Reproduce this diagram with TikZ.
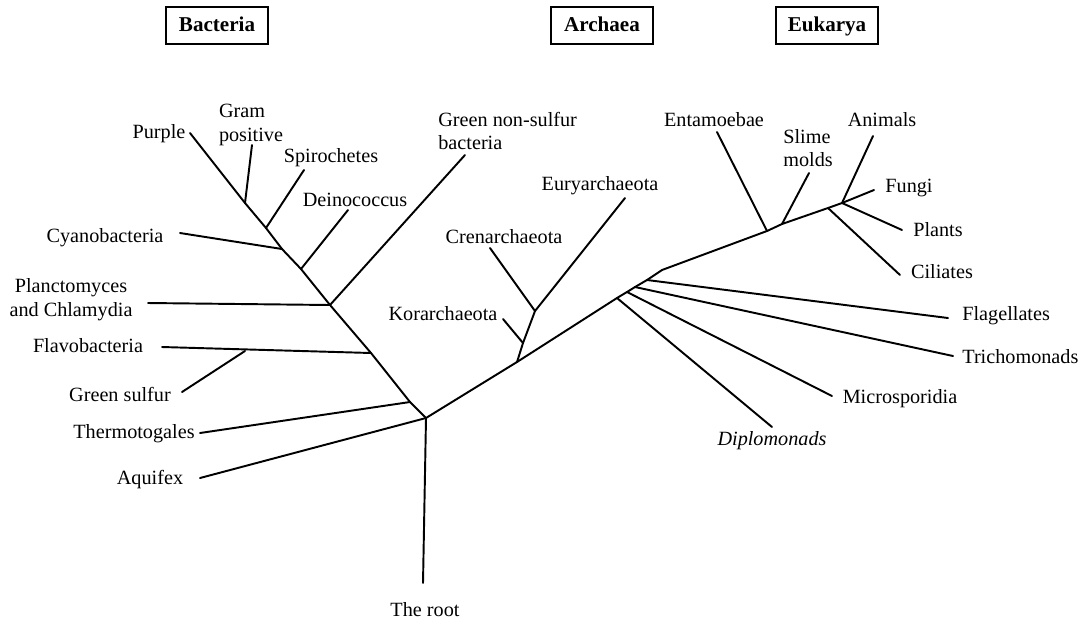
\documentclass[tikz,border=0pt]{standalone}
\usepackage{fontspec}
\setmainfont{Liberation Serif}
\tikzset{
  domainbox/.style={draw, line width=0.9pt, font=\fontsize{12}{14}\selectfont\bfseries, minimum width=20.4mm, minimum height=7.4mm, inner sep=1mm, text height=0.66em, text depth=0pt},
  taxon/.style={align=center, font=\fontsize{11.5}{13.5}\selectfont, inner sep=0pt},
  branch/.style={line width=1.1pt, line cap=round, line join=round}
}

\begin{document}
\begin{tikzpicture}[x=0.2mm, y=-0.2mm]
\useasboundingbox (0,0) rectangle (1083,621);

% the three domains
\node[domainbox] (bac) at (217,25.5) {Bacteria};
\node[domainbox] (arc) at (602,25.5) {Archaea};
\node[domainbox] (euk) at (827,25.5) {Eukarya};

% bacterial trunk
\coordinate (root) at (426,418);
\coordinate (bthermo) at (410,402);
\coordinate (bflavo) at (371,353);
\coordinate (bplancto) at (330,305);
\coordinate (bdeino) at (301,269);
\coordinate (bcyano) at (282,249);
\coordinate (bspiro) at (266,228);
\coordinate (bgram) at (245,203);
\coordinate (tpurple) at (190,133);
\coordinate (tgram) at (252,145);
\coordinate (tspiro) at (304,170);
\coordinate (tcyano) at (180,233);
\coordinate (tdeino) at (348,210);
\coordinate (tplancto) at (148,303);
\coordinate (tgreenns) at (465,155);
\coordinate (tflavo) at (162,347);
\coordinate (bgreens) at (245,351);
\coordinate (tgreens) at (182,392);
\coordinate (tthermo) at (200,433);
\coordinate (taquifex) at (200,478);
\coordinate (troot) at (423,583);

% archaea
\coordinate (arch) at (517,362);
\coordinate (akor) at (523,343);
\coordinate (asplit) at (535,311);
\coordinate (tkor) at (503,319);
\coordinate (tcren) at (490,248);
\coordinate (teury) at (625,198);

% eukarya
\coordinate (ediplo) at (617,298);
\coordinate (emicro) at (627,292);
\coordinate (etricho) at (635,287);
\coordinate (eflag) at (647,280);
\coordinate (ebend) at (662,270);
\coordinate (eentam) at (767,231);
\coordinate (eslime) at (782,224);
\coordinate (ecil) at (828,208);
\coordinate (ecrown) at (842,203);
\coordinate (tdiplo) at (772,427);
\coordinate (tmicro) at (832,396);
\coordinate (ttricho) at (953,356);
\coordinate (tflag) at (948,318);
\coordinate (tentam) at (717,132);
\coordinate (tslime) at (809,173);
\coordinate (tcil) at (900,275);
\coordinate (tanimal) at (873,136);
\coordinate (tfungi) at (874,190);
\coordinate (tplant) at (902,230);

% labels
\node[taxon] (purple) at (159,134) {Purple};
\node[taxon, align=left] (gram) at (251,125) {Gram\\positive};
\node[taxon] (spiro) at (331,158) {Spirochetes};
\node[taxon] (deino) at (355,200) {Deinococcus};
\node[taxon] (cyano) at (105,238) {Cyanobacteria};
\node[taxon] (plancto) at (71,300) {Planctomyces\\and Chlamydia};
\node[taxon, align=left, anchor=west] (greenns) at (438,131) {Green non-sulfur\\bacteria};
\node[taxon] (flavo) at (88,346) {Flavobacteria};
\node[taxon] (greens) at (120,394) {Green sulfur};
\node[taxon] (thermo) at (134,434) {Thermotogales};
\node[taxon] (aquifex) at (150,480) {Aquifex};
\node[taxon] (rootlab) at (425,610) {The root};
\node[taxon] (kor) at (443,314) {Korarchaeota};
\node[taxon] (cren) at (504,237) {Crenarchaeota};
\node[taxon] (eury) at (600,186) {Euryarchaeota};
\node[taxon, font=\fontsize{11.5}{13.5}\selectfont\itshape] (diplo) at (772,441) {Diplomonads};
\node[taxon] (micro) at (900,399) {Microsporidia};
\node[taxon, anchor=west] (tricho) at (962,357) {Trichomonads};
\node[taxon, anchor=west] (flag) at (962,316) {Flagellates};
\node[taxon] (entam) at (714,120) {Entamoebae};
\node[taxon, align=left] (slime) at (808,148) {Slime\\molds};
\node[taxon] (cil) at (942,272) {Ciliates};
\node[taxon] (animal) at (882,120) {Animals};
\node[taxon] (fungi) at (909,188) {Fungi};
\node[taxon] (plant) at (938,230) {Plants};

% tree
\draw[branch] (tpurple) -- (bgram) -- (bspiro) -- (bcyano) -- (bdeino) -- (bplancto)
  -- (bflavo) -- (bthermo) -- (root) -- (arch) -- (ediplo) -- (emicro) -- (etricho)
  -- (eflag) -- (ebend) -- (eentam) -- (eslime) -- (ecil) -- (ecrown);
\draw[branch] (bgram) -- (tgram);
\draw[branch] (bspiro) -- (tspiro);
\draw[branch] (bcyano) -- (tcyano);
\draw[branch] (bdeino) -- (tdeino);
\draw[branch] (bplancto) -- (tplancto);
\draw[branch] (bplancto) -- (tgreenns);
\draw[branch] (bflavo) -- (tflavo);
\draw[branch] (bgreens) -- (tgreens);
\draw[branch] (bthermo) -- (tthermo);
\draw[branch] (root) -- (taquifex);
\draw[branch] (root) -- (troot);
\draw[branch] (arch) -- (akor) -- (asplit) -- (teury);
\draw[branch] (akor) -- (tkor);
\draw[branch] (asplit) -- (tcren);
\draw[branch] (ediplo) -- (tdiplo);
\draw[branch] (emicro) -- (tmicro);
\draw[branch] (etricho) -- (ttricho);
\draw[branch] (eflag) -- (tflag);
\draw[branch] (eentam) -- (tentam);
\draw[branch] (eslime) -- (tslime);
\draw[branch] (ecil) -- (tcil);
\draw[branch] (ecrown) -- (tanimal);
\draw[branch] (ecrown) -- (tfungi);
\draw[branch] (ecrown) -- (tplant);
\end{tikzpicture}
\end{document}
